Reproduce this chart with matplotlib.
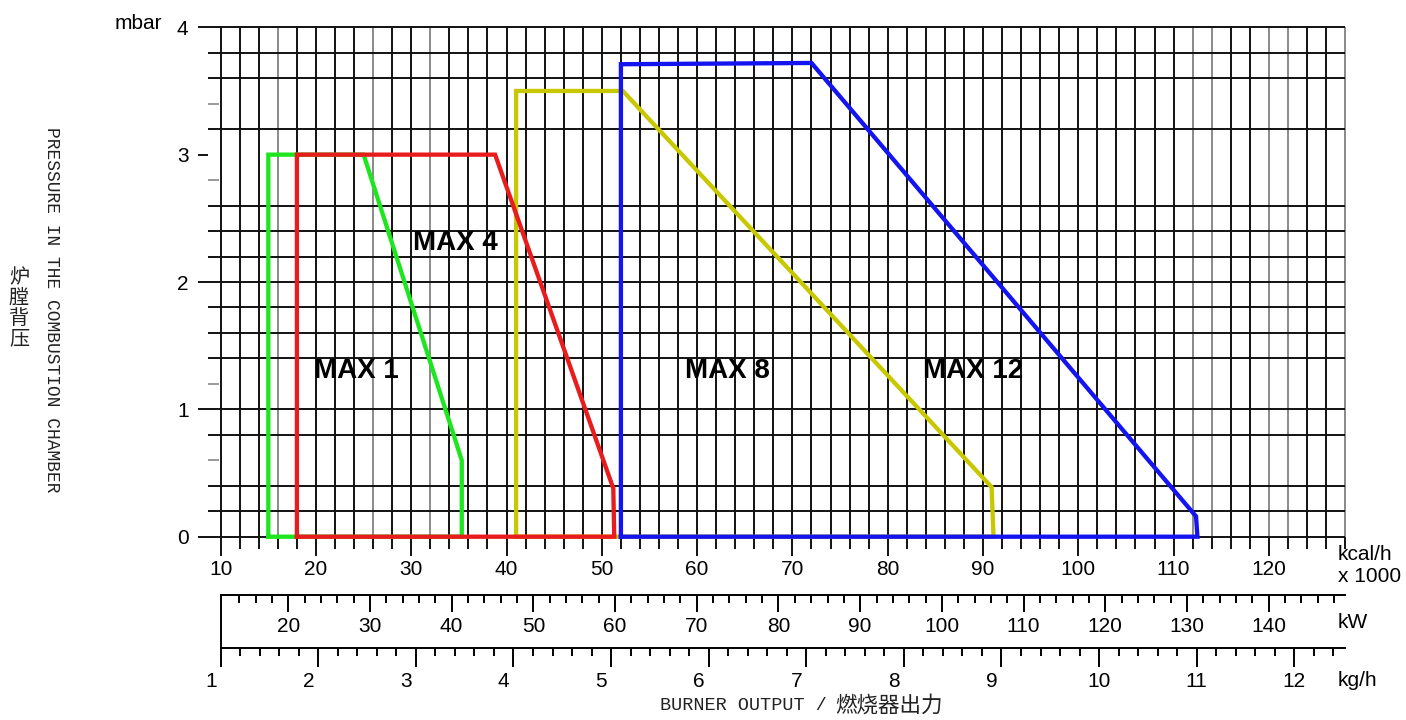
import numpy as np
import matplotlib
matplotlib.use("Agg")
import matplotlib.pyplot as plt
from matplotlib.transforms import ScaledTranslation

plt.rcParams['font.family'] = ['Liberation Sans', 'Noto Sans CJK SC']

# burner working fields: kcal/h x 1000 vs mbar
max1_x = [15.0, 15.0, 25.0, 35.3, 35.3, 15.0]
max1_y = [0.0, 3.0, 3.0, 0.60, 0.0, 0.0]
max4_x = [18.0, 18.0, 38.8, 51.2, 51.3, 18.0]
max4_y = [0.0, 3.0, 3.0, 0.38, 0.0, 0.0]
max8_x = [41.0, 41.0, 52.2, 90.9, 91.1, 41.0]
max8_y = [0.0, 3.5, 3.5, 0.39, 0.0, 0.0]
max12_x = [52.0, 52.0, 72.0, 112.35, 112.5, 52.0]
max12_y = [0.0, 3.71, 3.72, 0.16, 0.0, 0.0]

labels = ['MAX 1', 'MAX 4', 'MAX 8', 'MAX 12']
label_x = [24.2, 34.6, 63.2, 89.0]
label_y = [1.30, 2.31, 1.30, 1.30]

kcal_major = list(range(10, 121, 10))
kw_major = list(range(20, 141, 10))
kg_major = list(range(1, 13))

# grid layout of the printed sheet
h_grid = [0, 0.2, 0.4, 0.8, 1.0, 1.4, 1.6, 1.8, 2.0, 2.2, 2.4, 2.6, 3.2, 3.6, 3.8, 4.0]
h_stubs = [0.6, 1.2, 2.8, 3.4]
v_grid = list(range(10, 129, 2))
v_light = [16, 26, 32, 112, 114, 120, 122, 128]

W, H = 1406, 720
fig = plt.figure(figsize=(W / 100, H / 100), dpi=100)
FS = 15

# main chart
ax = fig.add_axes([208 / W, (H - 536.7) / H, (1348 - 208) / W, (536.7 - 27.3) / H])
ax.set_xlim(8.67, 128.3)
ax.set_ylim(0, 4)
for s in ax.spines.values():
    s.set_visible(False)

vcols = ['#8a8a8a' if v in v_light else '#111111' for v in v_grid]
ax.vlines(v_grid, 0, 4, colors=vcols, lw=1.4, clip_on=False, zorder=1)
ax.hlines(h_grid, 8.67, 128.0, colors='#111111', lw=1.4, clip_on=False, zorder=1)
ax.hlines(h_stubs, 8.67, 9.8, colors='#9a9a9a', lw=1.4, clip_on=False, zorder=1)

lw = 3.1
ax.plot(max1_x, max1_y, color='#1ee61e', lw=lw, solid_joinstyle='miter', clip_on=False, zorder=3)
ax.plot(max4_x, max4_y, color='#e81c1c', lw=lw, solid_joinstyle='miter', clip_on=False, zorder=4)
ax.plot(max8_x, max8_y, color='#c8c800', lw=lw, solid_joinstyle='miter', clip_on=False, zorder=3)
ax.plot(max12_x, max12_y, color='#1414f0', lw=lw, solid_joinstyle='miter', clip_on=False, zorder=5)

for t, x, y in zip(labels, label_x, label_y):
    ax.text(x, y, t, ha='center', va='center', fontsize=20, fontweight='bold', color='black', zorder=6)

ax.set_xticks(kcal_major)
ax.set_xticklabels([str(v) for v in kcal_major], fontsize=FS)
ax.set_xticks(v_grid, minor=True)
ax.tick_params(axis='x', which='major', direction='out', length=14, width=1.4, color='#111111', pad=3)
ax.tick_params(axis='x', which='minor', direction='out', length=8.5, width=1.4, color='#111111')

ax.set_yticks([0, 1, 2, 3, 4])
ax.set_yticklabels(['0', '1', '2', '3', '4'], fontsize=FS)
ax.tick_params(axis='y', which='major', direction='out', length=7, width=1.4, color='#111111', pad=7)
ax.yaxis.get_major_ticks()[3].tick1line.set_color('#9a9a9a')
ax.text(-0.040, 4.03, 'mbar', transform=ax.get_yaxis_transform(), ha='right', va='center', fontsize=FS)

# kW scale
xl = 220.7 / W
wl = (1345 - 220.7) / W
ax_kw = fig.add_axes([xl, (H - 595) / H, wl, 0.002])
ax_kw.set_xlim(11.73, 149.34)
ax_kw.patch.set_visible(False)
for k in ['top', 'left', 'right']:
    ax_kw.spines[k].set_visible(False)
ax_kw.spines['bottom'].set_linewidth(1.4)
ax_kw.set_yticks([])
ax_kw.set_xticks(kw_major)
ax_kw.set_xticklabels([str(v) for v in kw_major], fontsize=FS)
ax_kw.set_xticks(list(range(14, 149, 2)), minor=True)
ax_kw.tick_params(axis='x', which='major', direction='out', length=12, width=1.4, pad=4)
ax_kw.tick_params(axis='x', which='minor', direction='out', length=6, width=1.4)

# kg/h scale
ax_kg = fig.add_axes([xl, (H - 647.7) / H, wl, (647.7 - 595) / H])
ax_kg.set_xlim(1.0, 12.52)
ax_kg.patch.set_visible(False)
for k in ['top', 'right']:
    ax_kg.spines[k].set_visible(False)
ax_kg.spines['bottom'].set_linewidth(1.4)
ax_kg.spines['left'].set_linewidth(1.4)
ax_kg.set_yticks([])
ax_kg.set_xticks(kg_major)
ax_kg.set_xticklabels([str(v) for v in kg_major], fontsize=FS)
ax_kg.set_xticks(np.round(np.arange(1.2, 12.5, 0.2), 1), minor=True)
ax_kg.tick_params(axis='x', which='major', direction='out', length=13.7, width=1.4, pad=4)
ax_kg.tick_params(axis='x', which='minor', direction='out', length=6, width=1.4)

# single-digit kg/h labels sit left of their ticks on the sheet
shift = ScaledTranslation(-10 / 100, 0, fig.dpi_scale_trans)
for lbl in ax_kg.get_xticklabels():
    if len(lbl.get_text()) == 1:
        lbl.set_transform(lbl.get_transform() + shift)

# unit labels
fig.text(1338 / W, 1 - 555 / H, 'kcal/h', ha='left', va='center', fontsize=FS)
fig.text(1338 / W, 1 - 576 / H, 'x 1000', ha='left', va='center', fontsize=FS)
fig.text(1338 / W, 1 - 622 / H, 'kW', ha='left', va='center', fontsize=FS)
fig.text(1338 / W, 1 - 681 / H, 'kg/h', ha='left', va='center', fontsize=FS)

# axis titles
fig.text(51 / W, 1 - 310 / H, 'PRESSURE IN THE COMBUSTION CHAMBER', rotation=270,
         ha='center', va='center', fontsize=12.9, family='Liberation Mono', color='#222222')
fig.text(19 / W, 1 - 308 / H, '炉\n膛\n背\n压', ha='center', va='center', fontsize=14.5,
         family='Noto Sans CJK SC', linespacing=0.95, color='#222222')
fig.text(827 / W, 1 - 706 / H, 'BURNER OUTPUT /', ha='right', va='center', fontsize=13.3,
         family='Liberation Mono', color='#222222')
fig.text(835 / W, 1 - 706 / H, '燃烧器出力', ha='left', va='center', fontsize=15.5,
         family='Noto Sans CJK SC', color='#222222')

fig.savefig('out.png', dpi=100)
